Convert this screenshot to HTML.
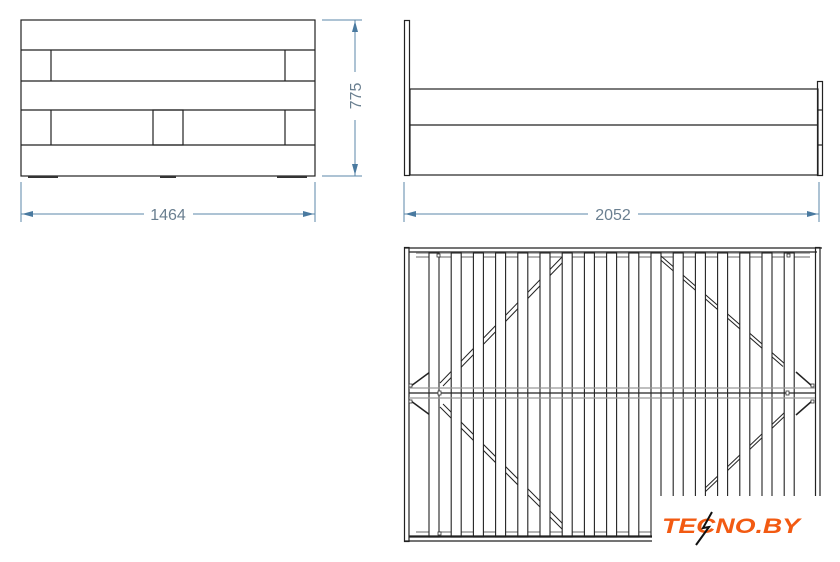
<!DOCTYPE html>
<html><head><meta charset="utf-8"><style>
html,body{margin:0;padding:0;background:#fff;}
svg{display:block;}
text{font-family:"Liberation Sans",sans-serif;font-weight:300;}
</style></head><body>
<svg width="840" height="562" viewBox="0 0 840 562" xmlns="http://www.w3.org/2000/svg">
<rect width="840" height="562" fill="#fff"/>
<g fill="none" stroke="#222" stroke-width="1.2">
<rect x="21" y="20" width="294" height="156"/>
<line x1="21" y1="50" x2="315" y2="50"/>
<line x1="21" y1="81" x2="315" y2="81"/>
<line x1="21" y1="110" x2="315" y2="110"/>
<line x1="21" y1="145" x2="315" y2="145"/>
<line x1="51" y1="50" x2="51" y2="81"/>
<line x1="285" y1="50" x2="285" y2="81"/>
<line x1="51" y1="110" x2="51" y2="145"/>
<line x1="285" y1="110" x2="285" y2="145"/>
<rect x="153" y="110" width="30" height="35"/>
</g>
<g fill="#333"><rect x="28" y="176" width="30" height="2"/><rect x="160" y="176" width="16" height="2"/><rect x="277" y="176" width="30" height="2"/></g>
<g stroke="#5b87a8" stroke-width="1" fill="#4a7aa0">
<line x1="21" y1="182" x2="21" y2="222"/><line x1="315" y1="182" x2="315" y2="222"/>
<line x1="21" y1="214" x2="144" y2="214"/><line x1="193" y1="214" x2="315" y2="214"/>
<polygon points="22,214 33,211 33,217" stroke="none"/><polygon points="314,214 303,211 303,217" stroke="none"/>
<line x1="322" y1="20" x2="362" y2="20"/><line x1="322" y1="176" x2="362" y2="176"/>
<line x1="355" y1="20" x2="355" y2="72"/><line x1="355" y1="120" x2="355" y2="176"/>
<polygon points="355,21 352,32 358,32" stroke="none"/><polygon points="355,175 352,164 358,164" stroke="none"/>
<line x1="404" y1="182" x2="404" y2="222"/><line x1="819" y1="182" x2="819" y2="222"/>
<line x1="404" y1="214" x2="588" y2="214"/><line x1="638" y1="214" x2="819" y2="214"/>
<polygon points="405,214 416,211 416,217" stroke="none"/><polygon points="818,214 807,211 807,217" stroke="none"/>
</g>
<g fill="#6a7f90" font-size="16">
<text x="168" y="220" text-anchor="middle">1464</text>
<text x="613" y="220" text-anchor="middle">2052</text>
<text transform="translate(361,96) rotate(-90)" text-anchor="middle">775</text>
</g>
<g fill="none" stroke="#222" stroke-width="1.2">
<rect x="404.5" y="20.5" width="5" height="155"/>
<rect x="410" y="89" width="408" height="86"/>
<line x1="410" y1="125" x2="818" y2="125"/>
<rect x="817.5" y="81.5" width="5" height="94"/>
<line x1="817.5" y1="110" x2="822.5" y2="110"/><line x1="817.5" y1="145" x2="822.5" y2="145"/>
</g>
<g fill="none" stroke="#222" stroke-width="1.2">
<line x1="404" y1="248" x2="822" y2="248"/>
<line x1="409" y1="252" x2="817" y2="252"/>
<rect x="404.5" y="247.5" width="4.5" height="294"/>
<rect x="815.5" y="247.5" width="4.5" height="294"/>
<line x1="404" y1="541" x2="820" y2="541"/>
<line x1="409" y1="537" x2="815" y2="537"/>
<line x1="416" y1="253" x2="810" y2="253" stroke="#888"/>
<line x1="416" y1="257" x2="810" y2="257" stroke="#888"/>
<line x1="416" y1="532" x2="810" y2="532" stroke="#888"/>
</g>
<g stroke="#222" stroke-width="1">
<line x1="440" y1="383" x2="563" y2="256"/><line x1="443" y1="386" x2="566" y2="259"/>
<line x1="440" y1="407" x2="563" y2="530"/><line x1="443" y1="404" x2="566" y2="527"/>
<line x1="661" y1="256" x2="785" y2="364"/><line x1="659" y1="258.5" x2="783" y2="366.5"/>
<line x1="661" y1="530" x2="785" y2="412"/><line x1="663" y1="532" x2="787" y2="414"/>
<line x1="411" y1="386" x2="430" y2="372" stroke-width="1.5"/>
<line x1="411" y1="401" x2="430" y2="415" stroke-width="1.5"/>
<line x1="812" y1="386" x2="796" y2="372" stroke-width="1.5"/>
<line x1="812" y1="401" x2="796" y2="415" stroke-width="1.5"/>
</g>
<g fill="#fff" stroke="#222" stroke-width="1.1">
<rect x="429" y="253" width="10" height="284"/>
<rect x="451.2" y="253" width="10" height="284"/>
<rect x="473.4" y="253" width="10" height="284"/>
<rect x="495.6" y="253" width="10" height="284"/>
<rect x="517.8" y="253" width="10" height="284"/>
<rect x="540" y="253" width="10" height="284"/>
<rect x="562.2" y="253" width="10" height="284"/>
<rect x="584.4" y="253" width="10" height="284"/>
<rect x="606.6" y="253" width="10" height="284"/>
<rect x="628.8" y="253" width="10" height="284"/>
<rect x="651" y="253" width="10" height="284"/>
<rect x="673.2" y="253" width="10" height="284"/>
<rect x="695.4" y="253" width="10" height="284"/>
<rect x="717.6" y="253" width="10" height="284"/>
<rect x="739.8" y="253" width="10" height="284"/>
<rect x="762" y="253" width="10" height="284"/>
<rect x="784.2" y="253" width="10" height="284"/>
</g>
<g stroke="#222" stroke-width="1.2">
<line x1="409" y1="388" x2="815" y2="388" stroke="#999"/>
<line x1="409" y1="393" x2="815" y2="393"/>
<line x1="409" y1="398" x2="815" y2="398" stroke="#999"/>
<line x1="409" y1="536" x2="815" y2="536"/>
</g>
<g fill="#fff" stroke="#333" stroke-width="0.8">
<rect x="437" y="254" width="3" height="3"/><rect x="787" y="254" width="3" height="3"/>
<rect x="438" y="391" width="3" height="4"/><rect x="786" y="391" width="3" height="4"/>
<rect x="409" y="384" width="3" height="3"/><rect x="409" y="400" width="3" height="3"/>
<rect x="811" y="384" width="3" height="3"/><rect x="811" y="400" width="3" height="3"/>
<rect x="438" y="532" width="3" height="3"/>
</g>
<rect x="652" y="496" width="188" height="66" fill="#fff"/>
<text x="662" y="533" font-family="Liberation Sans,sans-serif" font-style="italic" font-size="21" fill="#f25a12" textLength="138" lengthAdjust="spacingAndGlyphs" style="font-weight:bold">TECNO.BY</text>
<polyline points="712,512 703,528 709,527 696,545" fill="none" stroke="#111" stroke-width="2"/>
</svg>
</body></html>
